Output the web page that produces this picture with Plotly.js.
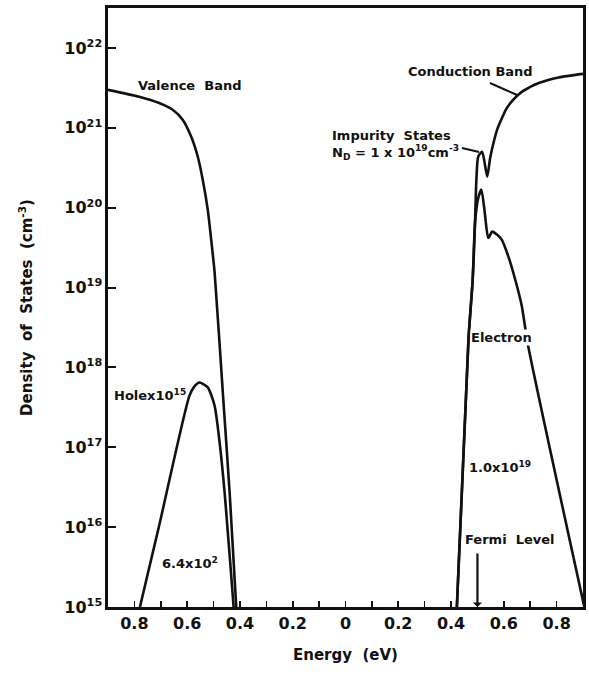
<!DOCTYPE html>
<html>
<head>
<meta charset="utf-8">
<script src="https://cdn.plot.ly/plotly-3.0.1.min.js"></script>
<style>
  html, body { margin: 0; padding: 0; background: #fff; }
  #chart { width: 589px; height: 679px; }
</style>
</head>
<body>
<div id="chart"></div>
<script>
// Energy axis in eV, measured from midgap (negative = valence side).
// Valence band density of states (cm^-3)
const valenceE   = [-0.9, -0.782, -0.706, -0.655, -0.617, -0.585, -0.56, -0.541, -0.522, -0.509, -0.496, -0.465, -0.439, -0.414];
const valenceDOS = [2.99e21, 2.45e21, 2.04e21, 1.68e21, 1.26e21, 7.76e20, 4.37e20, 2.24e20, 9.44e19, 3.98e19, 1.55e19, 4.90e17, 2.69e16, 1.0e15];

// Hole distribution, scaled by 10^15
const holeE   = [-0.779, -0.706, -0.592, -0.573, -0.553, -0.522, -0.496, -0.477, -0.458, -0.443, -0.432, -0.424];
const holeDen = [1.0e15, 1.05e16, 4.37e17, 5.75e17, 6.46e17, 5.62e17, 3.31e17, 1.15e17, 2.69e16, 6.46e15, 2.24e15, 1.0e15];

// Conduction band plus impurity band density of states
const conductionE   = [0.422, 0.466, 0.482, 0.49, 0.496, 0.503, 0.518, 0.537, 0.548, 0.56, 0.575, 0.59, 0.61, 0.635, 0.668, 0.732, 0.808, 0.9];
const conductionDOS = [1.0e15, 2.24e18, 1.26e19, 5.37e19, 2.24e20, 4.37e20, 5.01e20, 2.45e20, 4.17e20, 6.31e20, 9.55e20, 1.26e21, 1.74e21, 2.24e21, 2.82e21, 3.63e21, 4.27e21, 4.73e21];

// Electron distribution
const electronE   = [0.422, 0.466, 0.482, 0.491, 0.503, 0.515, 0.528, 0.541, 0.556, 0.575, 0.592, 0.617, 0.643, 0.668, 0.691, 0.905];
const electronDen = [1.0e15, 2.24e18, 1.26e19, 6.61e19, 1.32e20, 1.68e20, 8.51e19, 4.17e19, 5.01e19, 4.57e19, 3.98e19, 2.45e19, 1.26e19, 5.89e18, 1.95e18, 1.0e15];

const fermiLevel = 0.5;

// Axis ticks: energies shown as magnitudes on both sides of midgap
const xTickVals = [-0.8, -0.7, -0.6, -0.5, -0.4, -0.3, -0.2, -0.1, 0, 0.1, 0.2, 0.3, 0.4, 0.5, 0.6, 0.7, 0.8];
const xTickText = ['0.8', '', '0.6', '', '0.4', '', '0.2', '', '0', '', '0.2', '', '0.4', '', '0.6', '', '0.8'];
const yTickVals = [1e15, 1e16, 1e17, 1e18, 1e19, 1e20, 1e21, 1e22];
const yTickText = ['10<sup>15</sup>', '10<sup>16</sup>', '10<sup>17</sup>', '10<sup>18</sup>', '10<sup>19</sup>', '10<sup>20</sup>', '10<sup>21</sup>', '10<sup>22</sup>'];

const FONT = 'DejaVu Sans, Verdana, sans-serif';
const INK = '#111';

function curve(x, y) {
  return {
    x: x, y: y, type: 'scatter', mode: 'lines',
    line: { color: INK, width: 2.6, shape: 'spline', smoothing: 0.6 },
    hoverinfo: 'skip', showlegend: false
  };
}

const traces = [
  curve(valenceE, valenceDOS),
  curve(holeE, holeDen),
  curve(conductionE, conductionDOS),
  curve(electronE, electronDen)
];

function label(text, x, y, extra) {
  return Object.assign({
    text: text, x: x, y: y, xref: 'paper', yref: 'paper',
    showarrow: false, xanchor: 'center', yanchor: 'middle',
    font: { family: FONT, size: 13, color: INK, weight: 'bold' }
  }, extra || {});
}

const annotations = [
  label('Valence&nbsp;&nbsp;Band', 0.1726, 0.8698),
  label('Conduction&nbsp;Band', 0.7632, 0.8948),
  label('Impurity&nbsp;&nbsp;States<br>N<sub>D</sub> = 1 x 10<sup>19</sup>cm<sup>-3</sup>', 0.744, 0.7715,
        { xanchor: 'right', align: 'left' }),
  label('Holex10<sup>15</sup>', 0.0084, 0.354, { xanchor: 'left' }),
  label('6.4x10<sup>2</sup>', 0.1726, 0.0735),
  label('Electron', 0.8274, 0.4491, { bgcolor: '#fff', borderpad: 0 }),
  label('1.0x10<sup>19</sup>', 0.8253, 0.2342),
  label('Fermi&nbsp;&nbsp;Level', 0.8463, 0.1119),
  // Fermi level marker
  {
    x: fermiLevel, y: 0, xref: 'x', yref: 'paper', text: '',
    showarrow: true, ax: 0, ay: -55, arrowhead: 1, arrowsize: 0.7,
    arrowwidth: 2.2, arrowcolor: INK, standoff: 0
  }
];

const shapes = [
  // leader lines for the band labels
  { type: 'line', xref: 'paper', yref: 'paper', x0: 0.8042, y0: 0.8748, x1: 0.8611, y1: 0.8548, line: { color: INK, width: 2 } },
  { type: 'line', xref: 'paper', yref: 'paper', x0: 0.7453, y0: 0.7663, x1: 0.7811, y1: 0.7596, line: { color: INK, width: 2 } }
];

const layout = {
  width: 589, height: 679,
  margin: { l: 108, r: 6, t: 8, b: 72 },
  paper_bgcolor: '#fff', plot_bgcolor: '#fff',
  font: { family: FONT, color: INK },
  xaxis: {
    range: [-0.9, 0.9],
    tickmode: 'array', tickvals: xTickVals, ticktext: xTickText,
    ticks: 'inside', ticklen: 6, tickwidth: 1.6, tickcolor: INK,
    showline: true, linewidth: 2.6, linecolor: INK, mirror: true,
    showgrid: false, zeroline: false,
    tickfont: { family: FONT, size: 16, color: INK, weight: 'bold' },
    title: { text: 'Energy&nbsp;&nbsp;(eV)', font: { family: FONT, size: 15, color: INK, weight: 'bold' }, standoff: 18 }
  },
  yaxis: {
    type: 'log', range: [15, 22.5],
    tickmode: 'array', tickvals: yTickVals, ticktext: yTickText,
    ticks: 'inside', ticklen: 8, tickwidth: 2, tickcolor: INK,
    showline: true, linewidth: 2.6, linecolor: INK, mirror: true,
    showgrid: false, zeroline: false,
    tickfont: { family: FONT, size: 16, color: INK, weight: 'bold' },
    title: { text: 'Density&nbsp;&nbsp;of&nbsp;&nbsp;States&nbsp;&nbsp;(cm<sup>-3</sup>)', font: { family: FONT, size: 15, color: INK, weight: 'bold' }, standoff: 28 }
  },
  annotations: annotations,
  shapes: shapes
};

Plotly.newPlot('chart', traces, layout, { staticPlot: true, displayModeBar: false });
</script>
</body>
</html>
